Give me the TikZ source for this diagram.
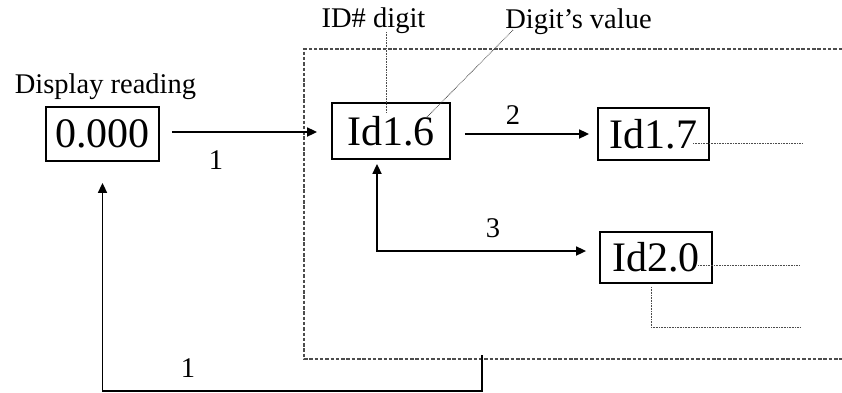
\documentclass[tikz,border=0pt]{standalone}
\usepackage{fontspec}
\setmainfont{Liberation Serif}
\usetikzlibrary{arrows.meta}
\begin{document}
\begin{tikzpicture}[x=1pt,y=-1pt,
  box/.style={draw,line width=1.8pt,inner sep=0pt,font=\fontsize{42}{46}\selectfont},
  lbl/.style={inner sep=0pt,font=\fontsize{28.5}{32}\selectfont},
  arr/.style={line width=1.7pt,-{Triangle[length=10pt,width=9pt]}},
  darr/.style={line width=1.7pt,{Triangle[length=10pt,width=9pt]}-{Triangle[length=10pt,width=9pt]}},
  dotl/.style={gray!60!black,line width=0.8pt,dash pattern=on 0.8pt off 0.8pt},
  dashl/.style={gray!60!black,line width=1.2pt,dash pattern=on 3.5pt off 1.8pt}]
\useasboundingbox (0,0) rectangle (842,392);
% boxes
\node[box,minimum width=113pt,minimum height=54pt] (disp) at (102.5,134) {0.000};
\node[box,minimum width=118pt,minimum height=56pt] (id16) at (391,131) {Id1.6};
\node[box,minimum width=111pt,minimum height=52pt] (id17) at (653.5,134) {Id1.7};
\node[box,minimum width=112pt,minimum height=51pt] (id20) at (656,257.5) {Id2.0};
% labels
\node[lbl,anchor=base] (dr) at (105.5,93) {Display reading};
\node[lbl,anchor=base] (idl) at (373.5,27) {ID\# digit};
\node[lbl,anchor=base] (dvl) at (578.5,28) {Digit’s value};
\node[lbl] (l1) at (216,160) {1};
\node[lbl] (l2) at (513,115) {2};
\node[lbl] (l3) at (493,228) {3};
\node[lbl] (l4) at (188,368) {1};
% dashed frame
\coordinate (ftr) at (842,49);
\coordinate (ftl) at (304,49);
\coordinate (fbl) at (304,359);
\coordinate (fbr) at (842,359);
\draw[dashl] (ftr) -- (ftl) -- (fbl) -- (fbr);
% arrows
\draw[arr] ([xshift=12pt,yshift=2pt]disp.east) -- ([xshift=-14pt,yshift=-1pt]id16.west);
\draw[arr] ([xshift=14pt,yshift=-3pt]id16.east) -- ([xshift=-8pt]id17.west);
\draw[darr] ([xshift=-14pt,yshift=-4pt]id16.south) |- ([xshift=-13pt,yshift=6.5pt]id20.west);
\coordinate (ls) at (482,355);
\coordinate (lb) at (482,391);
\draw[arr] (ls) -- (lb) -| ([yshift=-21pt]disp.south);
% dotted leaders
\draw[dotl] ([xshift=12.5pt,yshift=-5pt]idl.base) -- ([xshift=-5pt,yshift=18pt]id16.center);
\draw[dotl] ([xshift=-65.5pt,yshift=-2pt]dvl.base) -- ([xshift=36pt,yshift=14pt]id16.center);
\coordinate (e17) at (802,143);
\draw[dotl] ([xshift=39.5pt,yshift=-9pt]id17.center) -- (e17);
\coordinate (e20) at (800,265);
\draw[dotl] ([xshift=42pt,yshift=-7.5pt]id20.center) -- (e20);
\coordinate (e20b) at (800,327);
\draw[dotl] ([xshift=-5pt,yshift=-3pt]id20.south) |- (e20b);
\end{tikzpicture}
\end{document}
